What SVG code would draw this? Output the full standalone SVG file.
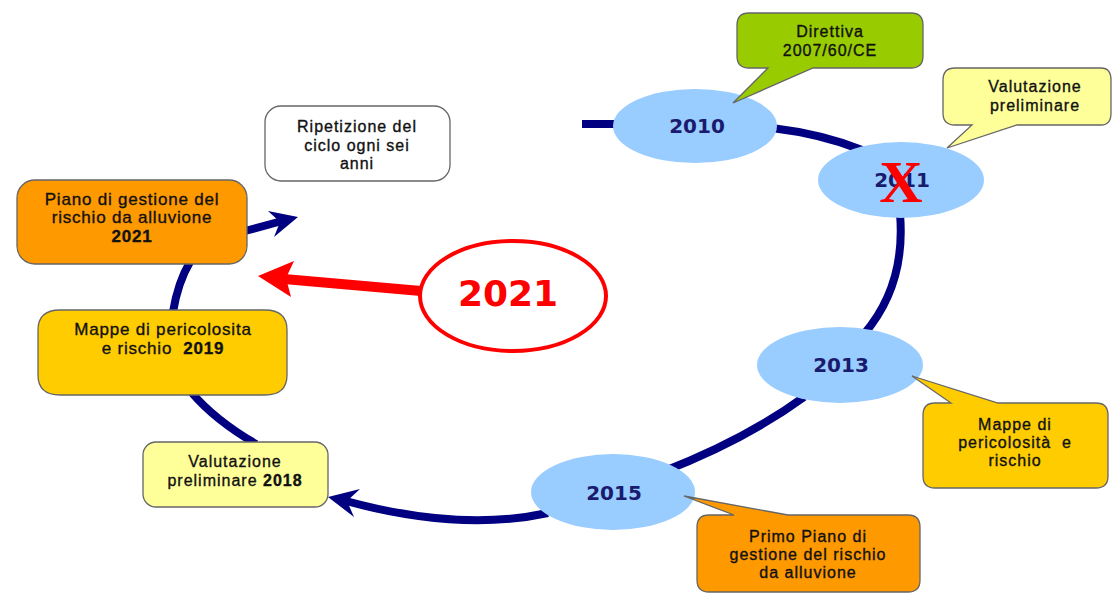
<svg xmlns="http://www.w3.org/2000/svg" width="1114" height="594" viewBox="0 0 1114 594">
<style>
.lbl{font-family:"Liberation Sans",Arial,sans-serif;font-size:16px;letter-spacing:1px;fill:#111;stroke:#111;stroke-width:0.35px;text-anchor:middle;white-space:pre}
.big{font-size:17px;letter-spacing:0.8px}
.yr{font-family:"DejaVu Sans",Verdana,sans-serif;font-size:20px;font-weight:bold;fill:#1a1a6e;text-anchor:middle}
.ell{fill:#99CCFF}
.box{stroke:#666;stroke-width:1.3}
.navy{fill:none;stroke:#000080;stroke-width:8}
.head{fill:#000080}
</style>
<rect width="1114" height="594" fill="#fff"/>
<g id="connectors">
<path class="navy" d="M582,124 H620"/>
<path class="navy" d="M772,128 Q822,134 862,150"/>
<path class="navy" d="M900,214 Q906,285 864,334"/>
<path class="navy" d="M804,397 Q745,440 662,472"/>
<path class="navy" d="M548,513 Q460,532 346,501"/>
<polygon class="head" points="328,497 360,489 347,501 354,517"/>
<path class="navy" d="M256,444 Q215,420 192,393"/>
<path class="navy" d="M173,312 Q178,282 190,262"/>
<path class="navy" d="M245,231 L282,221"/>
<polygon class="head" points="298,217 268,211 280,222 274,237"/>
<path fill="none" stroke="#FF0000" stroke-width="10" d="M421,291 L284,279"/>
<polygon fill="#FF0000" points="258,276 294,261 286,278 291,297"/>
</g>
<g id="n2010">
<ellipse class="ell" cx="695" cy="126" rx="82" ry="37"/>
<text class="yr" x="697" y="133">2010</text>
</g>
<g id="n2011">
<ellipse class="ell" cx="901" cy="180" rx="83" ry="38"/>
<text class="yr" x="902" y="187">2011</text>
<text x="901" y="202" font-family="Liberation Serif,serif" font-weight="bold" font-size="60" fill="#FF0000" text-anchor="middle">X</text>
</g>
<g id="n2013">
<ellipse class="ell" cx="840" cy="365" rx="83" ry="38"/>
<text class="yr" x="841" y="372">2013</text>
</g>
<g id="n2015">
<ellipse class="ell" cx="613" cy="492" rx="82" ry="38"/>
<text class="yr" x="614" y="500">2015</text>
</g>
<g id="c-direttiva">
<path class="box" fill="#99CC00" d="M749,13 H911 Q923,13 923,25 V56 Q923,68 911,68 H813 L733,103 L768,68 H749 Q737,68 737,56 V25 Q737,13 749,13 Z"/>
<text class="lbl" x="830" y="37">Direttiva</text>
<text class="lbl" x="830" y="56">2007/60/CE</text>
</g>
<g id="c-valutazione">
<path class="box" fill="#FFFF99" d="M955,68 H1101 Q1111,68 1111,80 V113 Q1111,125 1101,125 H1017 L947,148 L972,125 H955 Q943,125 943,113 V80 Q943,68 955,68 Z"/>
<text class="lbl" x="1035" y="92">Valutazione</text>
<text class="lbl" x="1035" y="111">preliminare</text>
</g>
<g id="c-mappe">
<path class="box" fill="#FFCC00" d="M935,403 H951 L912,376 L998,403 H1096 Q1108,403 1108,415 V476 Q1108,488 1096,488 H935 Q923,488 923,476 V415 Q923,403 935,403 Z"/>
<text class="lbl" x="1015" y="430">Mappe di</text>
<text class="lbl" x="1015" y="448">pericolosità  e</text>
<text class="lbl" x="1015" y="466">rischio</text>
</g>
<g id="c-primo">
<path class="box" fill="#FF9900" d="M709,515 H734 L684,496 L788,515 H908 Q920,515 920,527 V580 Q920,592 908,592 H709 Q697,592 697,580 V527 Q697,515 709,515 Z"/>
<text class="lbl" x="808" y="542">Primo Piano di</text>
<text class="lbl" x="808" y="560">gestione del rischio</text>
<text class="lbl" x="808" y="578">da alluvione</text>
</g>
<g id="n-valutazione2018">
<rect class="box" fill="#FFFF99" x="143" y="442" width="185" height="65" rx="13"/>
<text class="lbl" x="235" y="467">Valutazione</text>
<text class="lbl" x="235" y="486">preliminare <tspan font-weight="bold">2018</tspan></text>
</g>
<g id="n-mappe2019">
<path class="box" fill="#FFCC00" d="M60,310 H265 Q287,310 287,330 V375 Q287,395 265,395 H60 Q38,395 38,375 V330 Q38,310 60,310 Z"/>
<text class="lbl big" x="163" y="335">Mappe di pericolosita</text>
<text class="lbl big" x="163" y="354">e rischio  <tspan font-weight="bold">2019</tspan></text>
</g>
<g id="n-piano2021">
<rect class="box" fill="#FF9900" x="17" y="180" width="230" height="84" rx="18"/>
<text class="lbl big" x="132" y="205">Piano di gestione del</text>
<text class="lbl big" x="132" y="223">rischio da alluvione</text>
<text class="lbl big" x="132" y="242" font-weight="bold">2021</text>
</g>
<g id="n-ripetizione">
<rect class="box" fill="#FFFFFF" x="265" y="106" width="185" height="75" rx="16"/>
<text class="lbl" x="357" y="132">Ripetizione del</text>
<text class="lbl" x="357" y="151">ciclo ogni sei</text>
<text class="lbl" x="357" y="169">anni</text>
</g>
<g id="n-2021">
<ellipse cx="513" cy="296" rx="93" ry="55" fill="#fff" stroke="#FF0000" stroke-width="4"/>
<text x="508" y="306" font-family="DejaVu Sans,Verdana,sans-serif" font-weight="bold" font-size="36" fill="#FF0000" text-anchor="middle">2021</text>
</g>
</svg>
